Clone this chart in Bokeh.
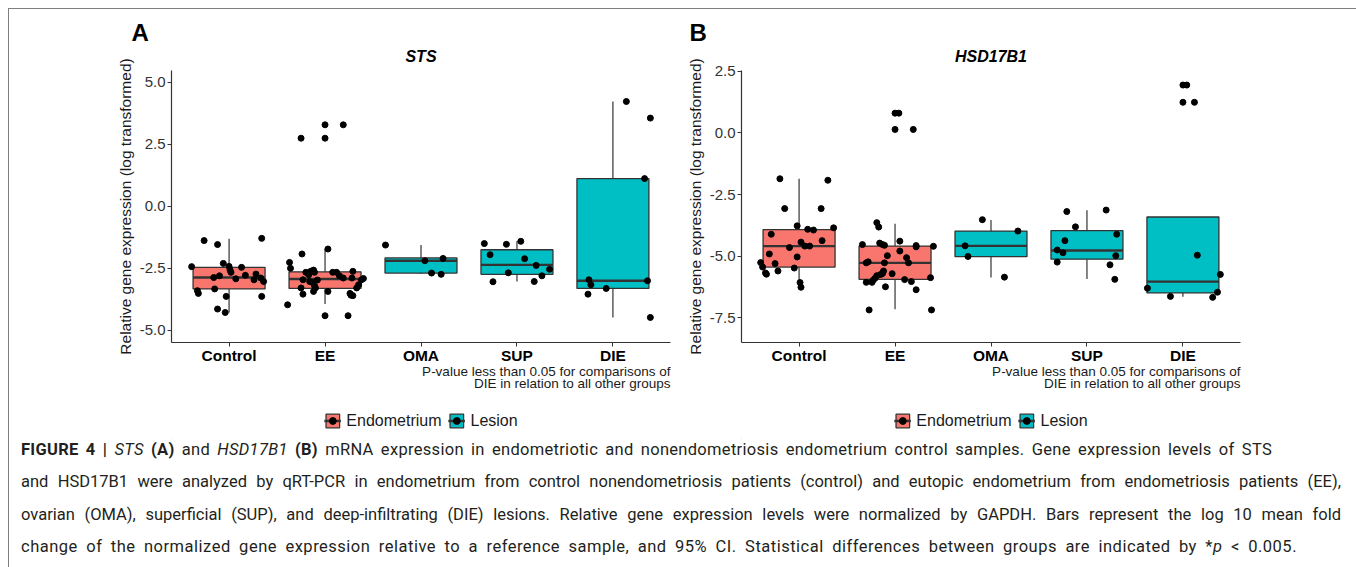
from bokeh.plotting import figure
from bokeh.models import (ColumnDataSource, Range1d, FixedTicker, NumeralTickFormatter,
                          Title, Legend, LegendItem, Div)
from bokeh.layouts import row, column
from bokeh.transform import dodge
from bokeh.embed import file_html
from bokeh.resources import INLINE

# ---------------- data ----------------
categories = ["Control", "EE", "OMA", "SUP", "DIE"]
category_group = ["Endometrium", "Endometrium", "Lesion", "Lesion", "Lesion"]
group_names = ["Endometrium", "Lesion"]
group_colors = ["#F8766D", "#00BFC4"]

# STS box statistics (Control, EE, OMA, SUP, DIE)
sts_lower = [-4.29, -3.95, -2.74, -3.04, -4.49]
sts_q1 = [-3.34, -3.32, -2.70, -2.75, -3.32]
sts_median = [-2.88, -2.94, -2.20, -2.37, -3.01]
sts_q3 = [-2.47, -2.65, -2.09, -1.76, 1.11]
sts_upper = [-1.32, -1.73, -1.57, -1.41, 4.22]
sts_outlier_cat = ["EE", "EE", "EE"]
sts_outlier_val = [2.74, 3.28, -4.42]

# STS individual samples (value, horizontal jitter)
sts_control = [-1.39, -1.55, -1.30, -2.44, -2.31, -2.43, -2.58, -2.67, -2.47, -2.74, -2.81, -2.88,
               -2.93, -2.79, -2.97, -2.90, -3.04, -3.41, -3.52, -3.34, -3.64, -3.64, -4.15, -4.29]
sts_control_jit = [-0.26, -0.12, 0.34, -0.39, -0.06, 0.00, 0.01, 0.02, 0.13, 0.28, -0.10, -0.16,
                   0.07, 0.17, 0.26, 0.33, 0.36, -0.33, -0.32, -0.15, -0.03, 0.34, -0.12, -0.04]
sts_ee = [-1.93, -1.73, -2.27, -2.51, -3.98, -3.55, -3.30, -2.97, -2.67, -2.77, -2.63, -2.58,
          -2.67, -3.04, -3.08, -3.21, -3.30, -3.44, -2.98, -3.44, -2.67, -2.67, -2.81, -2.90,
          -2.63, -2.90, -3.52, -3.59, -3.61, -3.30, -3.17, -2.97, -2.92, -4.42, 2.74, 3.28]
sts_ee_jit = [-0.24, 0.03, -0.37, -0.36, -0.39, -0.23, -0.25, -0.23, -0.20, -0.17, -0.15, -0.12,
              -0.11, -0.16, -0.13, -0.11, -0.10, -0.12, -0.08, 0.03, 0.08, 0.12, 0.15, 0.19,
              0.29, 0.28, 0.26, 0.27, 0.29, 0.33, 0.35, 0.38, 0.40, 0.24, -0.25, 0.19]
sts_oma = [-1.57, -2.20, -2.11, -2.70, -2.75]
sts_oma_jit = [-0.37, 0.04, 0.23, 0.11, 0.21]
sts_sup = [-1.51, -1.54, -1.42, -1.96, -2.12, -2.39, -2.55, -2.69, -2.81, -3.05, -3.04]
sts_sup_jit = [-0.34, -0.11, 0.04, -0.28, 0.08, 0.20, 0.34, -0.09, 0.26, -0.25, 0.18]
sts_die = [4.22, 3.55, 1.11, -2.97, -3.17, -3.01, -3.32, -3.55, -4.49]
sts_die_jit = [0.14, 0.39, 0.33, -0.25, -0.23, 0.36, -0.07, -0.26, 0.39]

# HSD17B1 box statistics
hsd_lower = [-6.24, -7.15, -5.86, -5.93, -6.64]
hsd_q1 = [-5.44, -5.94, -5.02, -5.12, -6.49]
hsd_median = [-4.59, -5.27, -4.58, -4.77, -6.03]
hsd_q3 = [-3.92, -4.59, -3.98, -3.96, -3.41]
hsd_upper = [-1.86, -3.68, -3.53, -3.14, -3.41]
hsd_outlier_cat = ["EE", "EE", "DIE", "DIE"]
hsd_outlier_val = [0.80, 0.14, 1.94, 1.24]

hsd_control = [-1.86, -1.92, -3.07, -3.07, -3.77, -3.91, -3.94, -3.85, -4.11, -4.37, -4.43, -4.59,
               -4.59, -4.65, -4.91, -5.03, -5.26, -5.44, -5.30, -5.48, -5.60, -5.68, -5.73, -6.07, -6.26]
hsd_control_jit = [-0.20, 0.30, -0.15, 0.23, -0.02, 0.09, 0.15, 0.36, -0.29, 0.24, 0.02, 0.06,
                   0.11, -0.10, -0.31, -0.02, -0.40, -0.38, -0.25, -0.05, -0.22, -0.35, -0.34, 0.01, 0.02]
hsd_ee = [-3.64, -3.82, -4.53, -4.47, -4.53, -4.56, -4.39, -4.57, -4.62, -4.60, -4.79, -4.98,
          -5.06, -5.23, -5.27, -5.27, -5.27, -5.60, -5.70, -5.74, -5.71, -5.79, -5.90, -5.98,
          -6.06, -6.06, -5.95, -6.03, -5.87, -6.24, -6.36, -7.18, -7.18, 0.80, 0.14]
hsd_ee_jit = [-0.19, -0.17, -0.34, -0.16, -0.13, -0.11, 0.05, 0.22, 0.22, 0.40, 0.05, -0.08,
              0.12, -0.28, -0.30, -0.11, 0.14, -0.12, -0.13, -0.15, -0.03, -0.19, -0.21, -0.23,
              -0.24, -0.30, 0.10, 0.17, 0.37, -0.10, 0.22, -0.27, 0.38, 0.04, 0.19]
hsd_oma = [-3.52, -3.98, -4.58, -5.01, -5.85]
hsd_oma_jit = [-0.09, 0.28, -0.27, -0.24, 0.14]
hsd_sup = [-3.19, -3.13, -3.81, -4.37, -4.11, -4.75, -4.86, -4.98, -5.24, -5.35, -5.94]
hsd_sup_jit = [-0.21, 0.20, -0.12, -0.23, 0.31, -0.31, -0.25, 0.30, -0.31, 0.24, 0.29]
hsd_die = [1.94, 1.24, -4.96, -5.74, -6.30, -6.63, -6.46, -6.67]
hsd_die_jit = [0.04, 0.12, 0.15, 0.39, -0.37, -0.13, 0.36, 0.31]

sts_ticks = [-5.0, -2.5, 0.0, 2.5, 5.0]
hsd_ticks = [-7.5, -5.0, -2.5, 0.0, 2.5]

y_title = "Relative gene expression (log transformed)"
note_1 = "P-value less than 0.05 for comparisons of"
note_2 = "DIE in relation to all other groups"

# ---------------- styling ----------------
FONT = "Liberation Sans"
EDGE = "#333333"
TOP = 61
FRAME_H = 272
BOT = 60
FIG_H = TOP + FRAME_H + BOT
FOOT_H = 37
CAP_H = 120


def build_panel(letter, gene, lower, q1, med, q3, upper, vals, jits, out_cat, out_val,
                y_lo, y_hi, ticks, fig_w, b_left, b_right, letter_offset):
    p = figure(width=fig_w, height=FIG_H, title=letter,
               x_range=Range1d(0.4, 5.6), y_range=Range1d(y_lo, y_hi),
               min_border_left=b_left, min_border_right=b_right,
               min_border_top=TOP, min_border_bottom=BOT,
               toolbar_location=None, output_backend="svg", outline_line_color=None,
               background_fill_color="white", border_fill_color="white")
    p.xgrid.visible = False
    p.ygrid.visible = False

    for g, col in zip(group_names, group_colors):
        ids = [i for i, cg in enumerate(category_group) if cg == g]
        box = ColumnDataSource(dict(
            x=[i + 1 for i in ids],
            lower=[lower[i] for i in ids], q1=[q1[i] for i in ids],
            median=[med[i] for i in ids], q3=[q3[i] for i in ids],
            upper=[upper[i] for i in ids]))
        p.segment(x0="x", y0="q3", x1="x", y1="upper", source=box, line_color=EDGE, line_width=1.2)
        p.segment(x0="x", y0="lower", x1="x", y1="q1", source=box, line_color=EDGE, line_width=1.2)
        p.vbar(x="x", width=0.75, bottom="q1", top="q3", source=box,
               fill_color=col, line_color=EDGE, line_width=1.3)
        p.segment(x0=dodge("x", -0.375), y0="median", x1=dodge("x", 0.375), y1="median",
                  source=box, line_color=EDGE, line_width=2.4)
        ox = [categories.index(c) + 1 for c in out_cat if category_group[categories.index(c)] == g]
        oy = [v for c, v in zip(out_cat, out_val) if category_group[categories.index(c)] == g]
        if ox:
            p.scatter(x=ox, y=oy, size=6, color="black")
        px, py = [], []
        for i in ids:
            px += [i + 1 + j for j in jits[i]]
            py += list(vals[i])
        p.scatter(x=px, y=py, size=6, color="black")

    # axes
    xa = p.xaxis[0]
    xa.ticker = FixedTicker(ticks=[1, 2, 3, 4, 5])
    xa.major_label_overrides = {i + 1: c for i, c in enumerate(categories)}
    xa.major_label_text_font = FONT
    xa.major_label_text_font_size = "15.5px"
    xa.major_label_text_font_style = "bold"
    xa.major_label_text_color = "black"
    xa.major_label_standoff = 0
    xa.minor_tick_line_color = None
    xa.major_tick_in = 0
    xa.major_tick_out = 4
    xa.major_tick_line_color = EDGE
    xa.axis_line_color = EDGE
    xa.axis_line_width = 1.2

    ya = p.yaxis[0]
    ya.ticker = FixedTicker(ticks=ticks)
    ya.formatter = NumeralTickFormatter(format="0.0")
    ya.major_label_text_font = FONT
    ya.major_label_text_font_size = "15px"
    ya.major_label_text_color = "#333333"
    ya.major_label_standoff = 2
    ya.minor_tick_line_color = None
    ya.major_tick_in = 0
    ya.major_tick_out = 4
    ya.major_tick_line_color = EDGE
    ya.axis_line_color = EDGE
    ya.axis_line_width = 1.2
    ya.axis_label = y_title
    ya.axis_label_text_font = FONT
    ya.axis_label_text_font_size = "15.5px"
    ya.axis_label_text_font_style = "normal"
    ya.axis_label_text_color = "#1a1a1a"
    ya.axis_label_standoff = 3

    # titles: panel letter (outer) and gene name (inner)
    p.title.align = "left"
    p.title.offset = letter_offset
    p.title.text_font = FONT
    p.title.text_font_size = "24px"
    p.title.text_font_style = "bold"
    p.title.text_color = "black"
    p.title.standoff = -10
    p.add_layout(Title(text=gene, align="center", text_font=FONT, text_font_size="16px",
                       text_font_style="bold italic", text_color="black", standoff=11), "above")

    for t, s in ((note_1, -10), (note_2, 0)):
        p.add_layout(Title(text=t, align="right", text_font=FONT, text_font_size="13.5px",
                           text_font_style="normal", text_color="#1a1a1a", standoff=s), "below")
    return p


def build_legend(fig_w, b_left, b_right):
    f = figure(width=fig_w, height=FOOT_H, title=None,
               x_range=Range1d(0, 1), y_range=Range1d(0, 1),
               min_border_left=b_left, min_border_right=b_right,
               min_border_top=0, min_border_bottom=0,
               x_axis_location=None, y_axis_location=None,
               toolbar_location=None, output_backend="svg", outline_line_color=None,
               background_fill_color="white", border_fill_color="white")
    f.grid.visible = False
    items = []
    for g, col in zip(group_names, group_colors):
        rb = f.vbar(x=[-5], width=0.75, bottom=[-5], top=[-4], fill_color=col,
                    line_color=EDGE, line_width=1.3)
        rm = f.segment(x0=[-5], y0=[-5], x1=[-4], y1=[-5], line_color=EDGE, line_width=2.4)
        rp = f.scatter(x=[-5], y=[-5], size=6, color="black")
        items.append(LegendItem(label=g, renderers=[rb, rm, rp]))
    leg = Legend(items=items, orientation="horizontal", location="center",
                 label_text_font=FONT, label_text_font_size="16px", label_text_color="#1a1a1a",
                 glyph_width=17, glyph_height=17, label_standoff=6, spacing=6,
                 padding=0, margin=0, border_line_color=None, background_fill_alpha=0)
    f.add_layout(leg)
    return f


pA = build_panel("A", "STS", sts_lower, sts_q1, sts_median, sts_q3, sts_upper,
                 [sts_control, sts_ee, sts_oma, sts_sup, sts_die],
                 [sts_control_jit, sts_ee_jit, sts_oma_jit, sts_sup_jit, sts_die_jit],
                 sts_outlier_cat, sts_outlier_val, -5.50, 5.47, sts_ticks,
                 672, 162, 11, -40)
pB = build_panel("B", "HSD17B1", hsd_lower, hsd_q1, hsd_median, hsd_q3, hsd_upper,
                 [hsd_control, hsd_ee, hsd_oma, hsd_sup, hsd_die],
                 [hsd_control_jit, hsd_ee_jit, hsd_oma_jit, hsd_sup_jit, hsd_die_jit],
                 hsd_outlier_cat, hsd_outlier_val, -8.50, 2.53, hsd_ticks,
                 671, 60, 112, -52)
lA = build_legend(672, 162, 11)
lB = build_legend(671, 60, 112)

caption_lines = [
    ('<b>FIGURE 4 |</b> <i>STS</i> <b>(A)</b> and <i>HSD17B1</i> <b>(B)</b> mRNA expression in '
     'endometriotic and nonendometriosis endometrium control samples. Gene expression levels of STS',
     1251, 0.3),
    ('and HSD17B1 were analyzed by qRT-PCR in endometrium from control nonendometriosis patients '
     '(control) and eutopic endometrium from endometriosis patients (EE),', 1320, 0.0),
    ('ovarian (OMA), superficial (SUP), and deep-infiltrating (DIE) lesions. Relative gene expression '
     'levels were normalized by GAPDH. Bars represent the log 10 mean fold', 1320, 0.0),
    ('change of the normalized gene expression relative to a reference sample, and 95% CI. '
     'Statistical differences between groups are indicated by *<i>p</i> &lt; 0.005.', 1276, 0.5),
]
cap_html = ('<div style="font-family: Roboto, sans-serif; font-size: 16.5px; color: #231f20; '
            'padding-left: 7px; margin-top: -4px;">')
for txt, w, ls in caption_lines:
    cap_html += ('<div style="width:%dpx; height:20px; line-height:20px; margin-bottom:12.3px; '
                 'letter-spacing:%.1fpx; text-align: justify; text-align-last: justify;">%s</div>'
                 % (w, ls, txt))
cap_html += '</div>'
caption = Div(text=cap_html, width=1343, height=CAP_H)

layout = column(row(column(pA, lA), column(pB, lB)), caption,
                margin=(8, 0, 0, 8),
                styles={"border-top": "1px solid #7f7f7f", "border-left": "1px solid #7f7f7f",
                        "border-right": "1px solid #7f7f7f"})

open("out.html", "w").write(file_html(layout, INLINE))
